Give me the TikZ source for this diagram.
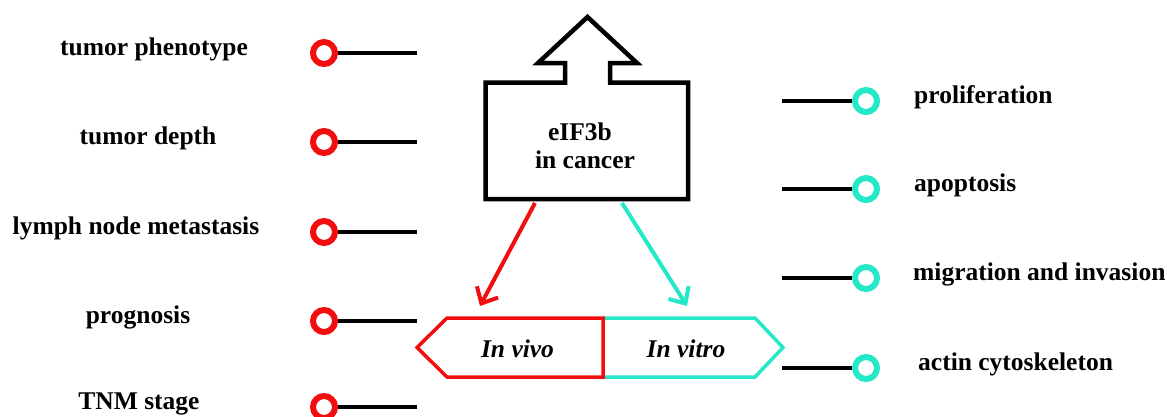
\documentclass[tikz,border=0pt]{standalone}
\usepackage{fontspec}
\setmainfont{Liberation Serif}
\usetikzlibrary{arrows.meta}
\definecolor{vivored}{RGB}{242,14,14}
\definecolor{vitrocyan}{RGB}{36,232,200}
\begin{document}
\begin{tikzpicture}[x=1pt,y=-1pt,
  lbl/.style={font=\fontsize{25.5}{30}\selectfont\bfseries, inner sep=0, anchor=base},
  lblw/.style={lbl, anchor=base west},
  itlbl/.style={lbl, font=\fontsize{25.5}{30}\selectfont\bfseries\itshape},
  pin/.style={circle, draw=#1, line width=6pt, minimum size=22pt, inner sep=0, fill=white},
  stem/.style={line width=4pt, black},
  outline/.style={line width=4.5pt, line join=miter},
  bar/.style={line width=3.5pt, line join=miter},
  link/.style={line width=4pt, -{Straight Barb[length=13pt,width=24pt]}}]
\useasboundingbox (0,0) rectangle (1167,416);

% central box with the upward arrow on top
\draw[outline] (485.5,199) -- (485.5,82.5) -- (565,82.5) -- (565,63) -- (538,63)
  -- (587.5,17) -- (637,63) -- (610,63) -- (610,82.5) -- (688,82.5) -- (688,199) -- cycle;
\node[lbl] (gene) at (580,140) {eIF3b};
\node[lbl] (ctx) at (585,168) {in cancer};

% in vivo / in vitro bar
\draw[bar, vitrocyan] (603,318) -- (755,318) -- (783,347.5) -- (755,377) -- (603,377);
\draw[bar, vivored] (603,318) -- (447,318) -- (417,347.5) -- (447,377) -- (603,377) -- cycle;
\node[itlbl] (vivo) at (517.5,357) {In vivo};
\node[itlbl] (vitro) at (686,357) {In vitro};

% arrows from the box down to the bar
\coordinate (vivoS) at (535,203);
\coordinate (vivoT) at (480,306);
\coordinate (vitroS) at (622,203);
\coordinate (vitroT) at (687,306);
\draw[link, vivored] (vivoS) -- (vivoT);
\draw[link, vitrocyan] (vitroS) -- (vitroT);

% clinical features (left)
\foreach \i/\y/\tx/\t in {1/53/154/tumor phenotype, 2/142/148/tumor depth,
    3/232/136/lymph node metastasis, 4/321/138/prognosis, 5/407/139/TNM stage}{
  \node[lbl] (L\i) at (\tx,\y+2.5) {\t};
  \node[pin=vivored] (Lp\i) at (324,\y) {};
  \coordinate (Le\i) at (417,\y);
  \draw[stem] (Lp\i) -- (Le\i);
}

% cellular features (right)
\foreach \i/\y/\tx/\t in {1/101/914/proliferation, 2/189/914/apoptosis,
    3/278/913/migration and invasion, 4/368/918/actin cytoskeleton}{
  \node[lblw] (R\i) at (\tx,\y+2) {\t};
  \coordinate (Rs\i) at (782,\y);
  \node[pin=vitrocyan] (Rp\i) at (866,\y) {};
  \draw[stem] (Rs\i) -- (Rp\i);
}
\end{tikzpicture}
\end{document}
